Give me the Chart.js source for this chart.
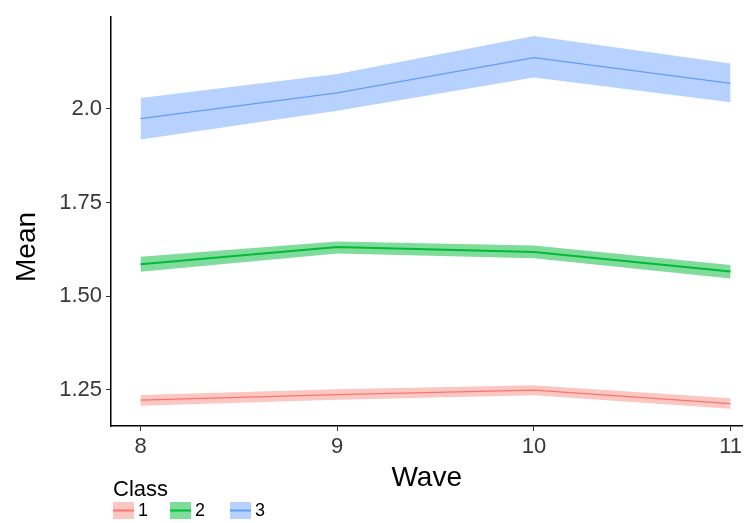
<!DOCTYPE html>
<html>
<head>
<meta charset="utf-8">
<script src="https://cdn.jsdelivr.net/npm/chart.js@4"></script>
<style>
  html, body { margin: 0; padding: 0; background: #fff; }
  #wrap { width: 745px; height: 523px; }
</style>
</head>
<body>
<div id="wrap"><canvas id="meanChart"></canvas></div>
<script>
// data
const waves = [8, 9, 10, 11];
const classNames = ['1', '2', '3'];

const class1Mean  = [1.222, 1.237, 1.249, 1.213];
const class1Lower = [1.207, 1.223, 1.235, 1.199];
const class1Upper = [1.236, 1.251, 1.262, 1.227];

const class2Mean  = [1.585, 1.631, 1.618, 1.566];
const class2Lower = [1.565, 1.614, 1.601, 1.547];
const class2Upper = [1.605, 1.646, 1.635, 1.583];

const class3Mean  = [1.974, 2.043, 2.137, 2.068];
const class3Lower = [1.918, 1.995, 2.084, 2.018];
const class3Upper = [2.029, 2.093, 2.195, 2.121];

const yTickValues = [1.25, 1.5, 1.75, 2.0];
const yTickLabels = ['1.25', '1.50', '1.75', '2.0'];
const xTickValues = [8, 9, 10, 11];

// ggplot default hues
const lineColors = ['#F8766D', '#00BA38', '#619CFF'];
const bandColors = ['rgba(248,118,109,0.42)', 'rgba(0,186,56,0.5)', 'rgba(97,156,255,0.45)'];

const FONT = '"Liberation Sans", Arial, sans-serif';

const toPoints = arr => arr.map((v, i) => ({ x: waves[i], y: v }));

const series = [
    { mean: class1Mean, lower: class1Lower, upper: class1Upper },
    { mean: class2Mean, lower: class2Lower, upper: class2Upper },
    { mean: class3Mean, lower: class3Lower, upper: class3Upper }
];

const datasets = [];
series.forEach((s, i) => {
    datasets.push({ label: 'lower' + classNames[i], data: toPoints(s.lower), borderWidth: 0, pointRadius: 0, fill: false });
    datasets.push({ label: 'upper' + classNames[i], data: toPoints(s.upper), borderWidth: 0, pointRadius: 0,
                    fill: '-1', backgroundColor: bandColors[i] });
    datasets.push({ label: 'Class ' + classNames[i], data: toPoints(s.mean), borderColor: lineColors[i],
                    borderWidth: i === 1 ? 2 : 1.3, pointRadius: 0, fill: false });
});

// y title and legend drawn by hand to sit where ggplot puts them
const extrasPlugin = {
    id: 'extras',
    afterDraw(chart) {
        const ctx = chart.ctx;
        ctx.save();
        ctx.fillStyle = '#000';
        ctx.font = '28px ' + FONT;
        ctx.textAlign = 'center';
        ctx.textBaseline = 'middle';
        ctx.translate(27, 247);
        ctx.rotate(-Math.PI / 2);
        ctx.fillText('Mean', 0, 0);
        ctx.restore();

        ctx.save();
        ctx.fillStyle = '#000';
        ctx.font = '22px ' + FONT;
        ctx.textBaseline = 'middle';
        ctx.fillText('Class', 113, 490);
        const keyX = [113, 170, 230];
        classNames.forEach((name, i) => {
            ctx.fillStyle = bandColors[i];
            ctx.fillRect(keyX[i], 502, 21, 17);
            ctx.strokeStyle = lineColors[i];
            ctx.lineWidth = 2;
            ctx.beginPath();
            ctx.moveTo(keyX[i], 510.5);
            ctx.lineTo(keyX[i] + 21, 510.5);
            ctx.stroke();
            ctx.fillStyle = '#000';
            ctx.font = '18px ' + FONT;
            ctx.fillText(name, keyX[i] + 25, 511);
        });
        ctx.restore();
    }
};

new Chart(document.getElementById('meanChart'), {
    type: 'line',
    data: { datasets: datasets },
    plugins: [extrasPlugin],
    options: {
        responsive: true,
        maintainAspectRatio: false,
        animation: false,
        layout: { padding: { top: 10, right: 0, left: 0, bottom: 0 } },
        plugins: { legend: { display: false }, tooltip: { enabled: false } },
        elements: { line: { tension: 0 } },
        scales: {
            x: {
                type: 'linear',
                min: 7.85,
                max: 11.06,
                afterBuildTicks: scale => { scale.ticks = xTickValues.map(v => ({ value: v })); },
                afterFit: scale => { scale.height = 97; },
                border: { display: true, color: '#000', width: 1.5 },
                grid: { drawOnChartArea: false, drawTicks: true, tickLength: 5, color: '#333' },
                ticks: { color: '#383838', font: { family: FONT, size: 22 }, padding: 3, maxRotation: 0 },
                title: { display: true, text: 'Wave', color: '#000', font: { family: FONT, size: 28 },
                         padding: { top: 0, bottom: 28 } }
            },
            y: {
                min: 1.153,
                max: 2.245,
                afterBuildTicks: scale => { scale.ticks = yTickValues.map(v => ({ value: v })); },
                afterFit: scale => { scale.width = 111; },
                border: { display: true, color: '#000', width: 1.5 },
                grid: { drawOnChartArea: false, drawTicks: true, tickLength: 5, color: '#333' },
                ticks: {
                    color: '#383838',
                    font: { family: FONT, size: 22 },
                    padding: 4,
                    callback: value => {
                        const k = yTickValues.indexOf(value);
                        return k >= 0 ? yTickLabels[k] : '';
                    }
                }
            }
        }
    }
});
</script>
</body>
</html>
